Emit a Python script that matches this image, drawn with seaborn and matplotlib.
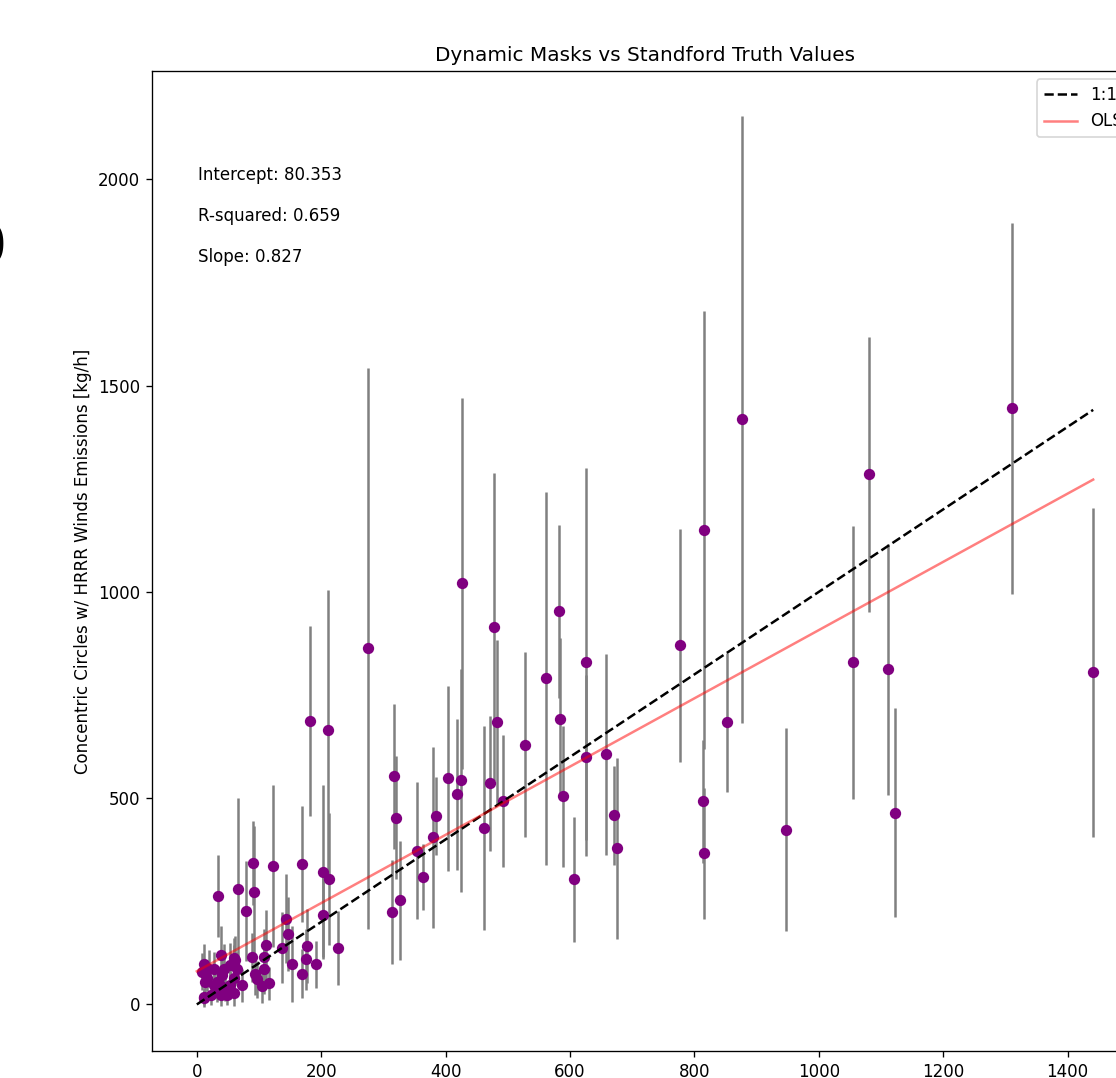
import numpy as np
import pandas as pd
import matplotlib
matplotlib.use("Agg")
import matplotlib.pyplot as plt
import seaborn as sns

# Truth values (x), estimated emissions (y), and error half-widths (err)
truth = [8.6, 16.7, 27, 33, 41, 46, 54, 60, 11, 22, 33, 49, 65, 60, 43, 27, 38, 19, 11, 54, 60, 13,
         34, 66, 92, 79, 143, 147, 137, 111, 177, 176, 169, 153, 108, 89, 108, 61, 39, 93, 97, 116,
         72, 105, 192, 227, 90, 122, 169, 203, 212, 203, 182, 211, 275, 314, 327, 317, 320, 354,
         364, 380, 385, 404, 419, 424, 427, 462, 472, 478, 483, 493, 528, 562, 583, 584, 589, 607,
         626, 626, 657, 670, 675, 776, 813, 816, 816, 853, 876, 947, 1055, 1081, 1111, 1122, 1311,
         1441, 60, 11, 39]
estimate = [79, 63, 87, 55, 71, 39, 47, 63, 19, 23, 31, 23, 87, 95, 87, 47, 47, 87, 99, 95, 27, 54,
            262, 281, 272, 226, 208, 170, 138, 143, 141, 109, 75, 97, 114, 114, 85, 107, 119, 73, 61, 51,
            46, 44, 97, 136, 342, 335, 340, 322, 303, 216, 686, 664, 863, 225, 252, 553, 453, 373,
            310, 405, 456, 548, 509, 543, 1021, 427, 536, 914, 684, 492, 630, 790, 953, 693, 504, 303,
            829, 599, 606, 458, 378, 870, 492, 1149, 366, 684, 1418, 424, 829, 1285, 812, 465, 1445,
            805, 112, 15, 22]
err = [45, 30, 40, 35, 40, 30, 35, 45, 20, 25, 25, 25, 40, 50, 60, 30, 35, 45, 48, 55, 30, 30,
       99, 220, 160, 121, 107, 90, 85, 85, 90, 75, 60, 92, 70, 60, 60, 60, 70, 50, 45, 40,
       40, 40, 56, 90, 102, 196, 141, 211, 160, 100, 230, 340, 680, 126, 144, 176, 150, 165,
       80, 219, 95, 224, 182, 270, 450, 247, 163, 373, 200, 160, 224, 453, 210, 196, 172, 152,
       470, 200, 243, 119, 220, 283, 148, 531, 158, 168, 736, 247, 330, 333, 305, 253, 450,
       398, 50, 20, 25]

intercept = 80.353
slope = 0.827
r_squared = 0.659

title = "Dynamic Masks vs Standford Truth Values"
ylabel = "Concentric Circles w/ HRRR Winds Emissions [kg/h]"

df = pd.DataFrame({"truth": truth, "estimate": estimate, "err": err})

fig = plt.figure(figsize=(1116 / 120, 1078 / 120), dpi=120)
ax = fig.add_axes([152 / 1116, 0.025, (1138 - 152) / 1116, 0.909])

ax.errorbar(df["truth"], df["estimate"], yerr=df["err"], fmt="none",
            ecolor="gray", elinewidth=1.5, zorder=2)
sns.scatterplot(data=df, x="truth", y="estimate", color="purple", s=46,
                linewidth=0, ax=ax, zorder=3)

xline = np.array([0, df["truth"].max()])
ax.plot(xline, xline, "k--", lw=1.5, label="1:1", zorder=4)
ax.plot(xline, intercept + slope * xline, color="red", alpha=0.5, lw=1.5,
        label="OLS", zorder=4)

ax.text(0.047, 0.894, f"Intercept: {intercept:.3f}", transform=ax.transAxes,
        va="center", fontsize=10)
ax.text(0.047, 0.852, f"R-squared: {r_squared:.3f}", transform=ax.transAxes,
        va="center", fontsize=10)
ax.text(0.047, 0.810, f"Slope: {slope:.3f}", transform=ax.transAxes,
        va="center", fontsize=10)

ax.set_title(title, fontsize=12)
ax.set_ylabel(ylabel)
ax.set_xlabel("")
ax.legend(loc="upper right")

fig.text(6 / 1116, 1 - 248 / 1078, "0", ha="right", va="center", fontsize=33)

fig.savefig("out.png", dpi=120)
